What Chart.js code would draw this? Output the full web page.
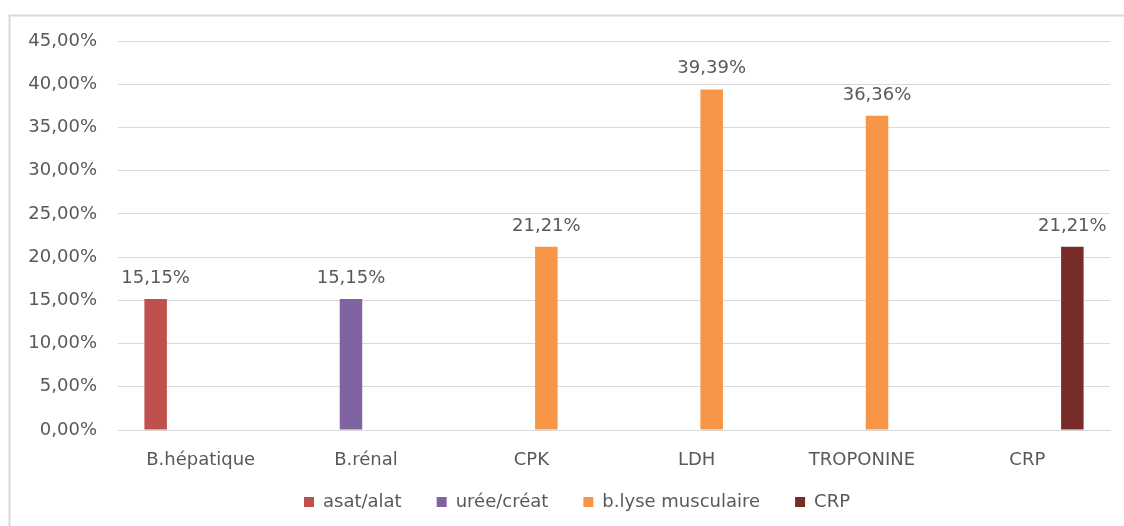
<!DOCTYPE html>
<html>
<head>
<meta charset="utf-8">
<script src="https://cdn.jsdelivr.net/npm/chart.js@4/dist/chart.umd.min.js"></script>
<style>
  html, body { margin: 0; padding: 0; background: #ffffff; }
  #wrap { position: relative; width: 1124px; height: 526px; }
</style>
</head>
<body>
<div id="wrap"><canvas id="c" width="1124" height="526"></canvas></div>
<script>
// Categories (x axis)
const categories = ['B.hépatique', 'B.rénal', 'CPK', 'LDH', 'TROPONINE', 'CRP'];

// Series values, in percent (null = no bar in that group)
const asatAlat      = [15.15, null, null, null, null, null];
const ureeCreat     = [null, 15.15, null, null, null, null];
const lyseMuscul    = [null, null, 21.21, 39.39, 36.36, null];
const crpValues     = [null, null, null, null, null, 21.21];

// Series names
const seriesNames = ['asat/alat', 'urée/créat', 'b.lyse musculaire', 'CRP'];

// Y axis range and step (percent)
const yMin = 0;
const yMax = 45;
const yStep = 5;

const textGray = '#595959';
const gridGray = '#D9D9D9';
const fontFamily = '"DejaVu Sans", sans-serif';
const fontSize = 18;

const fmtPct = v => v.toFixed(2).replace('.', ',') + '%';

// Thin outer frame (top and left edges)
const framePlugin = {
  id: 'frame',
  beforeDraw(chart) {
    const ctx = chart.ctx;
    ctx.save();
    ctx.strokeStyle = '#D9D9D9';
    ctx.lineWidth = 2;
    ctx.beginPath();
    ctx.moveTo(9.5, chart.height);
    ctx.lineTo(9.5, 15.5);
    ctx.lineTo(chart.width, 15.5);
    ctx.stroke();
    ctx.restore();
  }
};

// Nudge the legend row: a little right and up
const legendOffset = {
  id: 'legendOffset',
  afterLayout(chart) {
    const lg = chart.legend;
    if (!lg) return;
    const dx = 22, dy = -14;
    lg.left += dx; lg.right += dx;
    lg.top += dy; lg.bottom += dy;
  }
};

// Value labels above each bar
const valueLabels = {
  id: 'valueLabels',
  afterDatasetsDraw(chart) {
    const ctx = chart.ctx;
    ctx.save();
    ctx.font = fontSize + 'px ' + fontFamily;
    ctx.fillStyle = textGray;
    ctx.textAlign = 'center';
    ctx.textBaseline = 'alphabetic';
    chart.data.datasets.forEach((ds, di) => {
      const meta = chart.getDatasetMeta(di);
      meta.data.forEach((bar, i) => {
        const v = ds.data[i];
        if (v === null || v === undefined) return;
        ctx.fillText(fmtPct(v), bar.x, bar.y - 16);
      });
    });
    ctx.restore();
  }
};

new Chart(document.getElementById('c'), {
  type: 'bar',
  data: {
    labels: categories,
    datasets: [
      { label: seriesNames[0], data: asatAlat,   backgroundColor: '#C0504D' },
      { label: seriesNames[1], data: ureeCreat,  backgroundColor: '#8064A2' },
      { label: seriesNames[2], data: lyseMuscul, backgroundColor: '#F79646' },
      { label: seriesNames[3], data: crpValues,  backgroundColor: '#772C2A' }
    ]
  },
  options: {
    responsive: false,
    animation: false,
    categoryPercentage: 0.726,
    barPercentage: 0.75,
    layout: { padding: { top: 41, right: 14, left: 0, bottom: 0 } },
    scales: {
      x: {
        grid: { display: false },
        border: { display: true, color: gridGray, width: 1 },
        ticks: { color: textGray, font: { family: fontFamily, size: fontSize }, padding: 12, maxRotation: 0 },
        afterFit(scale) { scale.height = 42; }
      },
      y: {
        min: yMin,
        max: yMax,
        grid: { color: gridGray, drawTicks: false },
        border: { display: false },
        ticks: {
          stepSize: yStep,
          color: textGray,
          padding: 21,
          font: { family: fontFamily, size: fontSize },
          callback: v => fmtPct(v)
        },
        afterFit(scale) { scale.width = 118; }
      }
    },
    plugins: {
      legend: {
        position: 'bottom',
        maxHeight: 54,
        labels: {
          color: textGray,
          font: { family: fontFamily, size: fontSize },
          boxWidth: 10,
          boxHeight: 10,
          padding: 35
        }
      },
      tooltip: { enabled: false }
    }
  },
  plugins: [framePlugin, legendOffset, valueLabels]
});
</script>
</body>
</html>
